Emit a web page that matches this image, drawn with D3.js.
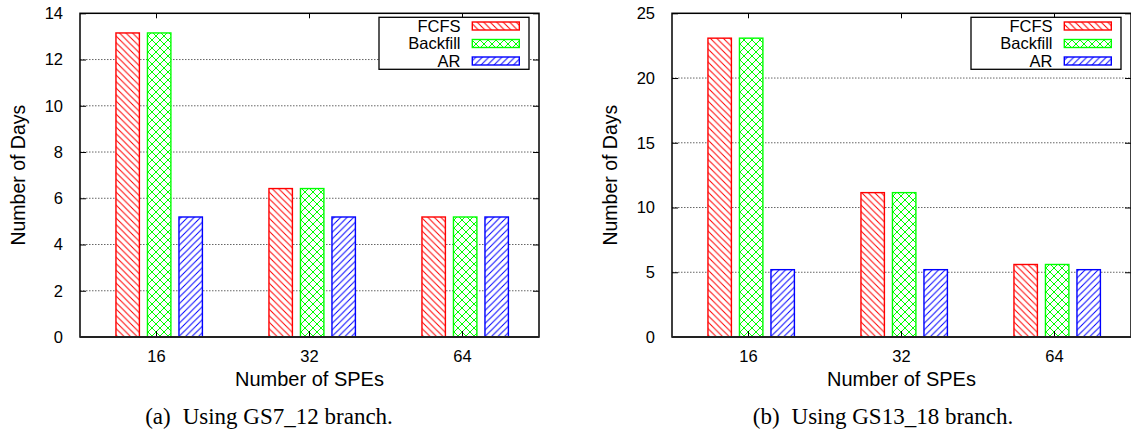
<!DOCTYPE html>
<html>
<head>
<meta charset="utf-8">
<script src="https://cdn.jsdelivr.net/npm/d3@7/dist/d3.min.js"></script>
<style>
  body { margin: 0; background: #fff; }
  svg { display: block; }
</style>
</head>
<body>
<svg id="chart" width="1131" height="437"></svg>
<script>
// ---- data ----
const categories = ["16", "32", "64"];
const seriesNames = ["FCFS", "Backfill", "AR"];
const yTicksA = [0, 2, 4, 6, 8, 10, 12, 14];
const yTicksB = [0, 5, 10, 15, 20, 25];
const fcfsA = [13.15, 6.42, 5.19];
const backfillA = [13.15, 6.42, 5.19];
const arA = [5.19, 5.19, 5.19];
const fcfsB = [23.08, 11.15, 5.60];
const backfillB = [23.08, 11.15, 5.60];
const arB = [5.20, 5.20, 5.20];
const captionLabelA = "(a)";
const captionTextA = "Using GS7_12 branch.";
const captionLabelB = "(b)";
const captionTextB = "Using GS13_18 branch.";
const xTitle = "Number of SPEs";
const yTitle = "Number of Days";

const colors = { FCFS: "#ff0000", Backfill: "#00ff00", AR: "#0000ff" };
const svg = d3.select("#chart");
const defs = svg.append("defs");

// hatch patterns
function hatch(id, color, size, paths) {
  const p = defs.append("pattern").attr("id", id)
    .attr("patternUnits", "userSpaceOnUse")
    .attr("width", size).attr("height", size);
  paths.forEach(d => p.append("path").attr("d", d)
    .attr("stroke", color).attr("stroke-width", 1).attr("fill", "none"));
}
const s1 = 6.5;
hatch("pFCFS", colors.FCFS, s1, [
  `M0,0 L${s1},${s1}`, `M${-s1},0 L${s1},${2*s1}`, `M0,${-s1} L${2*s1},${s1}`
]);
const s2 = 8;
hatch("pBackfill", colors.Backfill, s2, [
  `M0,0 L${s2},${s2}`, `M${-s2},0 L${s2},${2*s2}`, `M0,${-s2} L${2*s2},${s2}`,
  `M0,${s2} L${s2},0`, `M${-s2},${s2} L${s2},${-s2}`, `M0,${2*s2} L${2*s2},0`
]);
const s3 = 6.5;
hatch("pAR", colors.AR, s3, [
  `M0,${s3} L${s3},0`, `M${-s3},${s3} L${s3},${-s3}`, `M0,${2*s3} L${2*s3},0`
]);

const FONT = "'Liberation Sans', Arial, Helvetica, sans-serif";

function drawChart(cfg) {
  const { left, right, top, bottom, yMax, yTicks, data, capLabel, capText, captionX, yTitleX } = cfg;
  const g = svg.append("g");

  const x0 = d3.scaleBand().domain(categories).range([left, right]).paddingInner(0).paddingOuter(0);
  const bw = x0.bandwidth();
  const x1 = d3.scaleBand().domain(seriesNames)
    .range([bw * 0.235, bw * 0.800]).paddingInner(0.256).paddingOuter(0);
  const y = d3.scaleLinear().domain([0, yMax]).range([bottom, top]);

  // grid
  g.append("g").selectAll("line").data(yTicks.filter(t => t > 0 && t < yMax)).join("line")
    .attr("x1", left).attr("x2", right)
    .attr("y1", d => y(d)).attr("y2", d => y(d))
    .attr("stroke", "#666").attr("stroke-width", 1)
    .attr("stroke-dasharray", "1.5,1.5");

  // bars
  const rows = categories.map((c, i) => ({ c, vals: seriesNames.map((s, j) => ({ s, v: data[j][i] })) }));
  const grp = g.append("g").selectAll("g").data(rows).join("g")
    .attr("transform", d => `translate(${x0(d.c)},0)`);
  grp.selectAll("rect.bg").data(d => d.vals).join("rect").attr("class", "bg")
    .attr("x", d => x1(d.s)).attr("width", x1.bandwidth())
    .attr("y", d => y(d.v)).attr("height", d => y(0) - y(d.v))
    .attr("fill", "#fff");
  grp.selectAll("rect.fg").data(d => d.vals).join("rect").attr("class", "fg")
    .attr("x", d => x1(d.s)).attr("width", x1.bandwidth())
    .attr("y", d => y(d.v)).attr("height", d => y(0) - y(d.v))
    .attr("fill", d => `url(#p${d.s})`)
    .attr("stroke", d => colors[d.s]).attr("stroke-width", 1.4);

  // axes (inward ticks)
  const yAxisL = d3.axisLeft(y).tickValues(yTicks).tickSize(-6).tickPadding(17).tickFormat(d3.format("d"));
  const ga = g.append("g").attr("transform", `translate(${left},0)`).call(yAxisL);
  ga.select(".domain").remove();
  ga.selectAll("text").attr("font-family", FONT).attr("font-size", 16.5).attr("fill", "#000");
  ga.selectAll("line").attr("stroke", "#000");

  const yAxisR = d3.axisRight(y).tickValues(yTicks).tickSize(-6).tickFormat("");
  const gr = g.append("g").attr("transform", `translate(${right},0)`).call(yAxisR);
  gr.select(".domain").remove();

  const xAxisB = d3.axisBottom(x0).tickSize(-6).tickPadding(13);
  const gb = g.append("g").attr("transform", `translate(0,${bottom})`).call(xAxisB);
  gb.select(".domain").remove();
  gb.selectAll("text").attr("font-family", FONT).attr("font-size", 16.5).attr("fill", "#000");

  const xAxisT = d3.axisTop(x0).tickSize(-5).tickFormat("");
  const gt = g.append("g").attr("transform", `translate(0,${top})`).call(xAxisT);
  gt.select(".domain").remove();

  // border
  g.append("rect").attr("x", left).attr("y", top)
    .attr("width", right - left).attr("height", bottom - top)
    .attr("fill", "none").attr("stroke", "#000").attr("stroke-width", 1.5);
  g.append("line").attr("x1", left).attr("x2", right).attr("y1", bottom).attr("y2", bottom)
    .attr("stroke", "#222").attr("stroke-width", 2.2);

  // legend
  const lgRight = right - 10, lgLeft = lgRight - 150;
  const lg = g.append("g");
  lg.append("rect").attr("x", lgLeft).attr("y", 17.3).attr("width", 150).attr("height", 52)
    .attr("fill", "#fff").attr("stroke", "#000").attr("stroke-width", 1.3);
  seriesNames.forEach((s, i) => {
    const cy = 26 + i * 17.5;
    lg.append("text").attr("x", lgLeft + 81.5).attr("y", cy)
      .attr("dy", "0.35em").attr("text-anchor", "end")
      .attr("font-family", FONT).attr("font-size", 16.5).text(s);
    lg.append("rect").attr("x", lgLeft + 93.3).attr("y", cy - 4).attr("width", 47).attr("height", 8)
      .attr("fill", "#fff");
    lg.append("rect").attr("x", lgLeft + 93.3).attr("y", cy - 4).attr("width", 47).attr("height", 8)
      .attr("fill", `url(#p${s})`).attr("stroke", colors[s]).attr("stroke-width", 1.4);
  });

  // titles
  g.append("text").attr("x", (left + right) / 2).attr("y", 386)
    .attr("text-anchor", "middle").attr("font-family", FONT).attr("font-size", 20).text(xTitle);
  g.append("text").attr("transform", `translate(${yTitleX},${(top + bottom) / 2}) rotate(-90)`)
    .attr("text-anchor", "middle").attr("font-family", FONT).attr("font-size", 19.5).text(yTitle);
  const cap = g.append("text").attr("x", captionX).attr("y", 424)
    .attr("text-anchor", "middle").attr("font-family", "'Liberation Serif', 'DejaVu Serif', serif")
    .attr("font-size", 23);
  cap.append("tspan").text(capLabel);
  cap.append("tspan").attr("dx", 12).text(capText);
}

drawChart({ left: 80, right: 539, top: 13.3, bottom: 337, yMax: 14, yTicks: yTicksA,
  data: [fcfsA, backfillA, arA], capLabel: captionLabelA, capText: captionTextA, captionX: 269, yTitleX: 25 });
drawChart({ left: 672, right: 1131, top: 13.3, bottom: 337, yMax: 25, yTicks: yTicksB,
  data: [fcfsB, backfillB, arB], capLabel: captionLabelB, capText: captionTextB, captionX: 883, yTitleX: 617 });
</script>
</body>
</html>
